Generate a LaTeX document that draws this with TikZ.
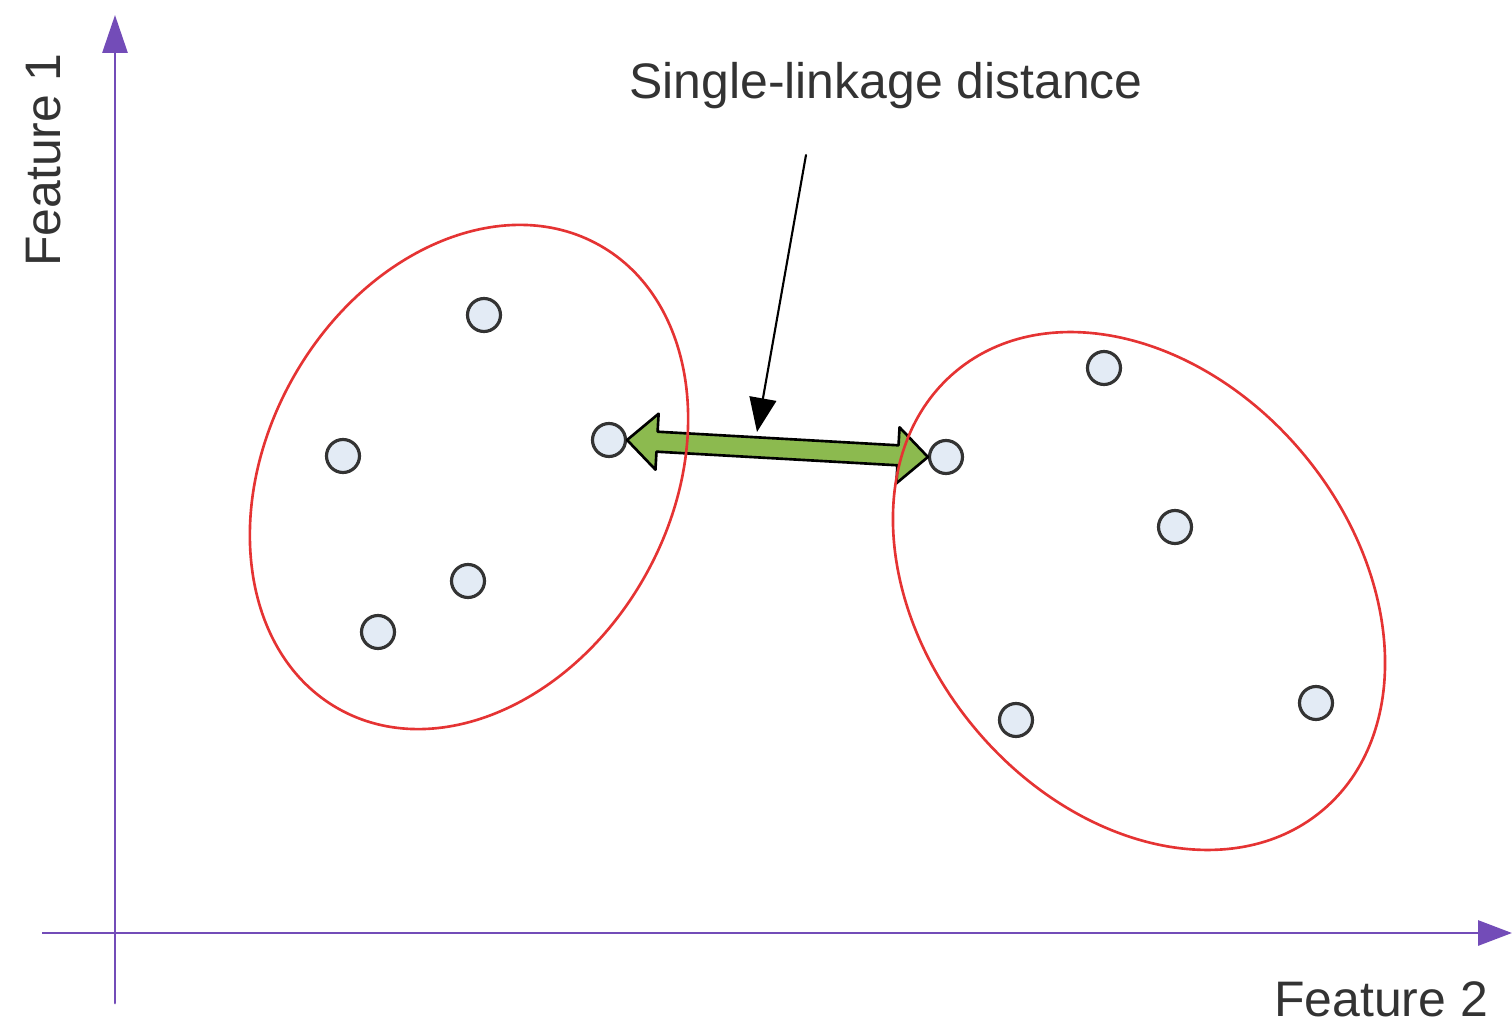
\documentclass[tikz,border=0pt]{standalone}
\usepackage{fontspec}
\setmainfont{Liberation Sans}
\usetikzlibrary{calc,arrows.meta}
\definecolor{uuqqcc}{rgb}{0.45,0.30,0.72}
\definecolor{eeqqqq}{rgb}{0.90,0.20,0.20}
\definecolor{ccddtt}{rgb}{0.55,0.73,0.31}
\definecolor{eeffff}{rgb}{0.89,0.92,0.96}
\definecolor{sqsqsq}{rgb}{0.20,0.20,0.20}
\tikzset{pt/.style={circle,draw=sqsqsq,line width=0.9pt,fill=eeffff,inner sep=0pt,minimum size=0.33cm}}

\begin{document}
\begin{tikzpicture}[line cap=round,line join=round,font=\fontsize{14.2}{17}\selectfont]
    \useasboundingbox (0,0) rectangle (15.12,10.27);
    \draw [color=uuqqcc,line width=0.85pt,-{Triangle[length=0.38cm,width=0.25cm]}] (1.15,0.24) -- (1.15,10.12);
    \draw [color=uuqqcc,line width=0.85pt,line cap=butt,-{Triangle[length=0.34cm,width=0.25cm]}] (0.42,0.94) -- (15.12,0.94);
    \node[pt] (a1) at (4.84,7.12) {};
    \node[pt] (a2) at (3.43,5.71) {};
    \node[pt] (a3) at (6.09,5.87) {};
    \node[pt] (a4) at (4.68,4.46) {};
    \node[pt] (a5) at (3.78,3.95) {};
    \node[pt] (b1) at (11.04,6.59) {};
    \node[pt] (b2) at (9.46,5.70) {};
    \node[pt] (b3) at (11.75,5.00) {};
    \node[pt] (b4) at (10.16,3.07) {};
    \node[pt] (b5) at (13.16,3.24) {};
    % single linkage arrow between a3 and b2
    \coordinate (gl) at (a3.east);
    \coordinate (gr) at (b2.west);
    \coordinate (hl) at ($(gl)!0.3cm!(gr)$);
    \coordinate (hr) at ($(gr)!0.3cm!(gl)$);
    \filldraw [fill=ccddtt,draw=black,line width=0.75pt] (gl) -- ($(hl)!0.28cm!90:(gr)$) -- ($(hl)!0.1cm!90:(gr)$)
        -- ($(hr)!0.1cm!-90:(gl)$) -- ($(hr)!0.28cm!-90:(gl)$) -- (gr) -- ($(hr)!0.28cm!90:(gl)$)
        -- ($(hr)!0.1cm!90:(gl)$) -- ($(hl)!0.1cm!-90:(gr)$) -- ($(hl)!0.28cm!-90:(gr)$) -- cycle;
    \draw [color=eeqqqq,line width=0.75pt] (4.69,5.50) ellipse [x radius=2.66cm,y radius=2.02cm,rotate=60.6];
    \draw [color=eeqqqq,line width=0.75pt] (11.39,4.36) ellipse [x radius=2.86cm,y radius=2.14cm,rotate=129.8];
    \coordinate (pfrom) at (8.06,8.72);
    \coordinate (pto) at (7.57,5.95);
    \draw [line width=0.6pt,-{Triangle[length=0.34cm,width=0.27cm]}] (pfrom) -- (pto);
    \node[color=sqsqsq,anchor=base] (title) at (8.86,9.28) {Single-linkage distance};
    \node[color=sqsqsq,anchor=base,rotate=90] (ylab) at (0.60,8.67) {Feature 1};
    \node[color=sqsqsq,anchor=base] (xlab) at (13.81,0.11) {Feature 2};
\end{tikzpicture}
\end{document}
